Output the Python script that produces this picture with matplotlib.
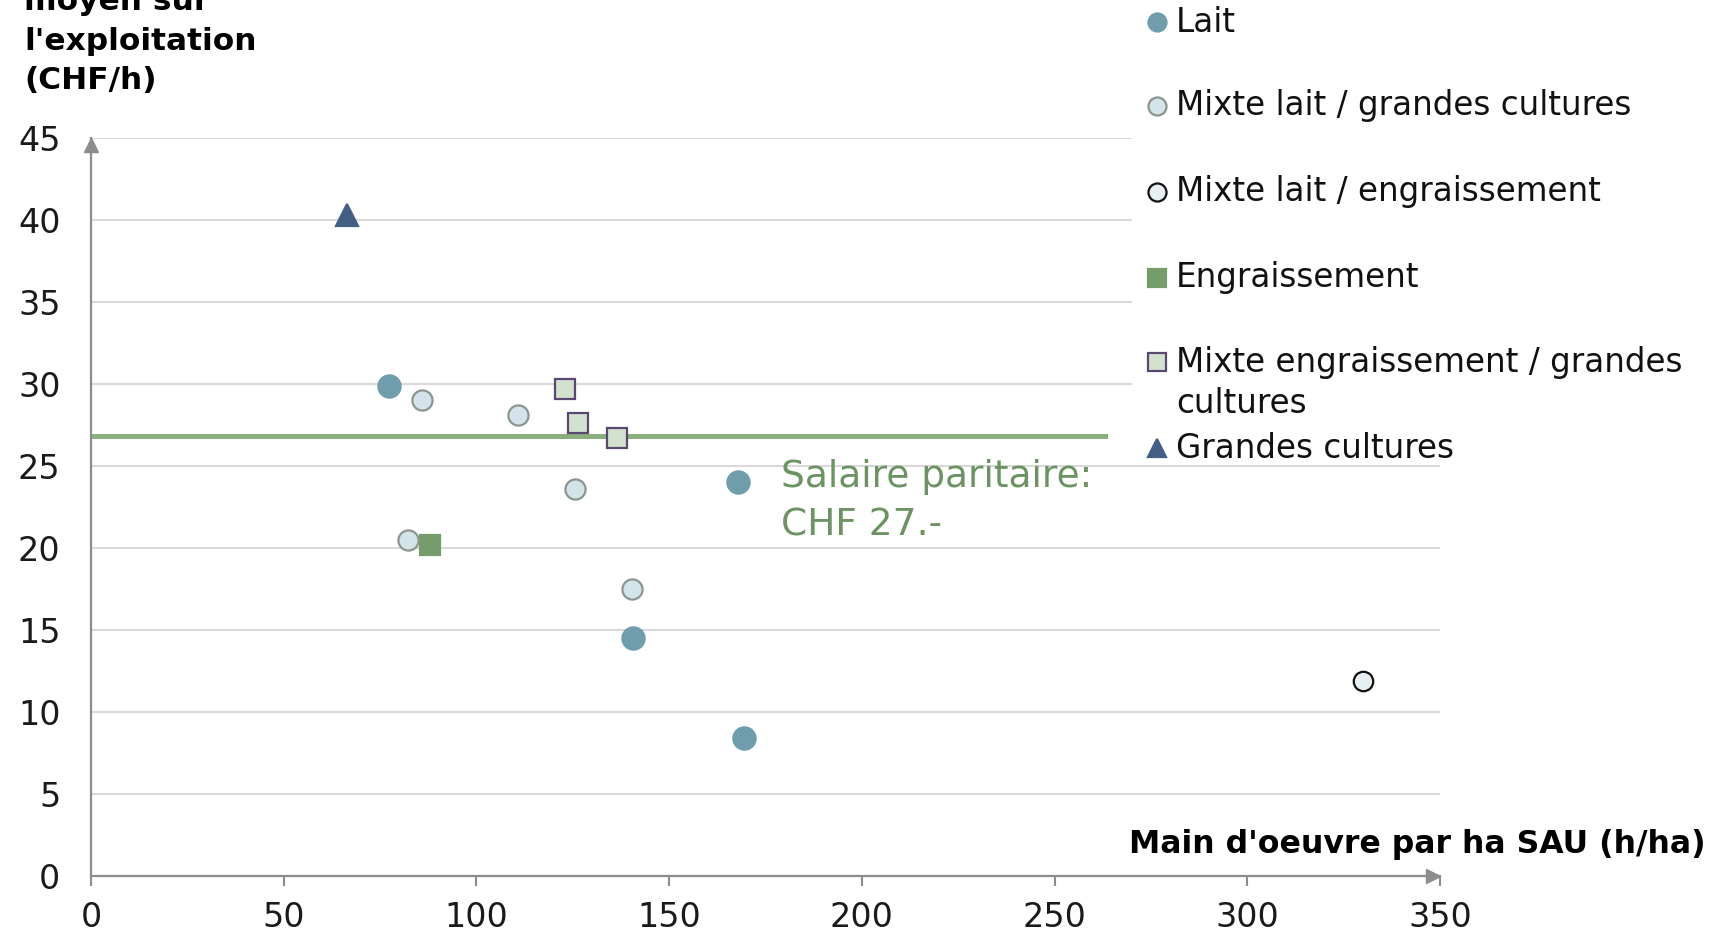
import matplotlib.pyplot as plt
from matplotlib.lines import Line2D
from matplotlib.patches import Rectangle

plt.rcParams['font.family'] = ['DejaVu Sans']

# données (x: h/ha, y: CHF/h)
lait_x = [77.4, 167.9, 140.6, 169.3]
lait_y = [29.9, 24.0, 14.5, 8.4]
mixte_lait_gc_x = [85.9, 110.7, 125.5, 82.2, 140.3]
mixte_lait_gc_y = [29.0, 28.1, 23.6, 20.5, 17.5]
mixte_lait_engr_x = [330.1]
mixte_lait_engr_y = [11.9]
engr_x = [87.9]
engr_y = [20.2]
mixte_engr_gc_x = [122.9, 126.4, 136.6]
mixte_engr_gc_y = [29.7, 27.6, 26.7]
gc_x = [66.3]
gc_y = [40.3]

salaire = 26.8
salaire_fin = 263
x_ticks = [0, 50, 100, 150, 200, 250, 300, 350]
y_ticks = [0, 5, 10, 15, 20, 25, 30, 35, 40, 45]

# style des séries : (label, x, y, marker, fill, edge, size)
series = [
    ('Lait', lait_x, lait_y, 'o', '#6f9dab', '#6f9dab', 16),
    ('Mixte lait / grandes cultures', mixte_lait_gc_x, mixte_lait_gc_y, 'o', '#d3e4ea', '#8d9590', 14.5),
    ('Mixte lait / engraissement', mixte_lait_engr_x, mixte_lait_engr_y, 'o', '#e8eff3', '#111111', 14),
    ('Engraissement', engr_x, engr_y, 's', '#779c6b', '#779c6b', 15),
    ('Mixte engraissement / grandes\ncultures', mixte_engr_gc_x, mixte_engr_gc_y, 's', '#d3e2cf', '#5b4870', 14),
    ('Grandes cultures', gc_x, gc_y, '^', '#445f85', '#445f85', 16),
]

fig = plt.figure(figsize=(17.2, 9.36), dpi=100)
ax = fig.add_axes([91/1720, 1 - 876/936, (1440 - 91)/1720, (876 - 138)/936])

axis_col = '#8c8c8c'
ax.set_xlim(0, 350)
ax.set_ylim(0, 45)
ax.set_xticks(x_ticks)
ax.set_yticks(y_ticks)
ax.tick_params(axis='x', length=7, width=1.5, color=axis_col, pad=11, labelsize=24, labelcolor='#1a1a1a')
ax.tick_params(axis='y', length=0, pad=22, labelsize=24, labelcolor='#1a1a1a')
for s in ['top', 'right']:
    ax.spines[s].set_visible(False)
for s in ['left', 'bottom']:
    ax.spines[s].set_color(axis_col)
    ax.spines[s].set_linewidth(1.6)
ax.grid(axis='y', color='#d9d9d9', linewidth=1.5)
ax.set_axisbelow(True)

# flèches au bout des axes
ax.plot(0, 44.6, marker='^', color=axis_col, markersize=10, clip_on=False)
ax.plot(348.3, 0, marker='>', color=axis_col, markersize=10, clip_on=False)

# salaire paritaire
ax.plot([-1, salaire_fin], [salaire, salaire], color='#8aae7e', linewidth=3.6, zorder=2)
ax.text(179, 22.85, 'Salaire paritaire:\nCHF 27.-', color='#6b9462', fontsize=27,
        va='center', ha='left', linespacing=1.43)

for label, xs, ys, m, fc, ec, ms in series:
    ax.plot(xs, ys, linestyle='none', marker=m, markersize=ms, markerfacecolor=fc,
            markeredgecolor=ec, markeredgewidth=1.6, zorder=3, clip_on=False)

# fond blanc de la légende
fig.add_artist(Rectangle((1132/1720, 1 - 455/936), 1 - 1132/1720, 455/936,
                         transform=fig.transFigure, facecolor='white', edgecolor='none', zorder=1))

# légende manuelle
leg_rows = [22, 106, 192, 278, 362, 448]
for (label, xs, ys, m, fc, ec, ms), row in zip(series, leg_rows):
    yf = 1 - row/936
    fig.add_artist(Line2D([1157/1720], [yf], transform=fig.transFigure, marker=m,
                          markersize=13, markerfacecolor=fc, markeredgecolor=ec,
                          markeredgewidth=1.6, linestyle='none', zorder=2))
    ytxt = yf - (21/936 if '\n' in label else 0)
    fig.text(1176/1720, ytxt, label, fontsize=23.5, va='center',
             ha='left', color='#111111', linespacing=1.31, zorder=3)

# titres des axes
fig.text(24/1720, 1 - 41/936, "moyen sur\nl'exploitation\n(CHF/h)", fontsize=22.5,
         fontweight='bold', va='center', ha='left', linespacing=1.45)
fig.text(1706/1720, 1 - 845/936, "Main d'oeuvre par ha SAU (h/ha)", fontsize=22.7,
         fontweight='bold', va='center', ha='right')

fig.savefig('out.png', dpi=100)
